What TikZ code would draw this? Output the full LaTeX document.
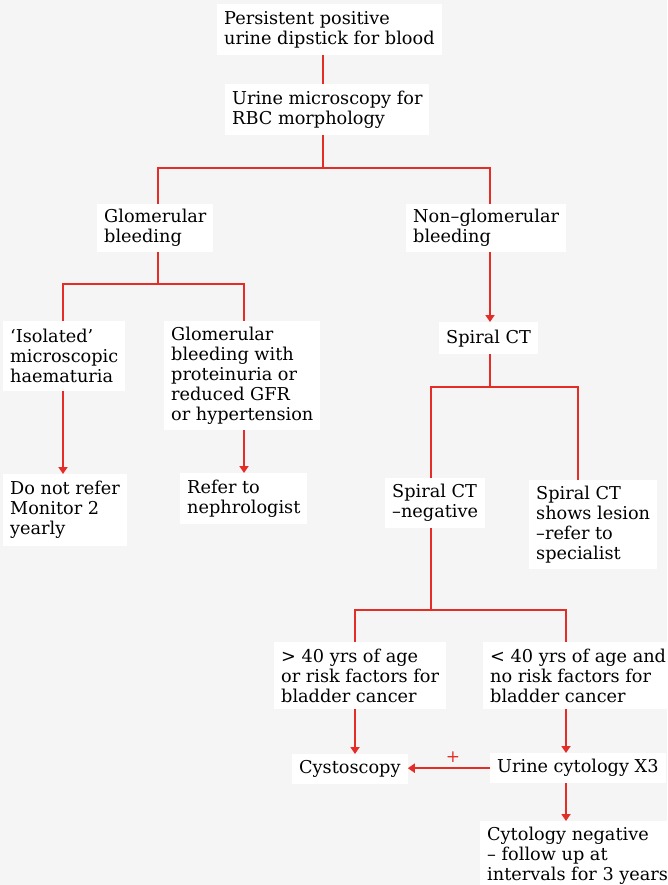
\documentclass[tikz,border=0pt]{standalone}
\usepackage{fontspec}
\setmainfont{DejaVu Serif}
\usepackage{tikz}
\usetikzlibrary{arrows.meta, positioning}

\definecolor{flowred}{RGB}{228,45,38}
\definecolor{bggrey}{RGB}{245,245,245}

\tikzset{
  box/.style={fill=white, inner xsep=7pt, inner ysep=3pt, align=left,
    anchor=north west, font=\fontsize{17.7}{20}\selectfont},
  link/.style={draw=flowred, line width=1.9pt},
}

\begin{document}
\begin{tikzpicture}[x=1pt, y=-1pt, >={Triangle[width=9pt,length=7pt]}]
  \fill[bggrey] (0,0) rectangle (667,885);
  \useasboundingbox (0,0) rectangle (667,885);
  \clip (0,0) rectangle (667,885);

  \node[box, minimum height=51pt]  (top)       at (217,4)   {Persistent positive\\urine dipstick for blood};
  \node[box, minimum height=51pt]  (micro)     at (225,84)  {Urine microscopy for\\RBC morphology};
  \node[box, minimum height=48pt]  (glom)      at (97,204)  {Glomerular\\bleeding};
  \node[box, minimum height=48pt]  (nonglom)   at (406,204) {Non–glomerular\\bleeding};
  \node[box, minimum height=70pt]  (isolated)  at (3,321)   {‘Isolated’\\microscopic\\haematuria};
  \node[box, minimum height=109pt] (glombleed) at (164,321) {Glomerular\\bleeding with\\proteinuria or\\reduced GFR\\or hypertension};
  \node[box, minimum height=32pt]  (spiral)    at (439,322) {Spiral CT};
  \node[box, minimum height=72pt]  (donot)     at (3,474)   {Do not refer\\Monitor 2\\yearly};
  \node[box, minimum height=51pt]  (refer)     at (180,473) {Refer to\\nephrologist};
  \node[box, minimum height=50pt]  (neg)       at (385,478) {Spiral CT\\–negative};
  \node[box, minimum height=89pt]  (lesion)    at (529,480) {Spiral CT\\shows lesion\\–refer to\\specialist};
  \node[box, minimum height=67pt]  (over40)    at (274,642) {> 40 yrs of age\\or risk factors for\\bladder cancer};
  \node[box, minimum height=67pt]  (under40)   at (483,642) {< 40 yrs of age and\\no risk factors for\\bladder cancer};
  \node[box, minimum height=30pt]  (cysto)     at (292,754) {Cystoscopy};
  \node[box, minimum height=30pt]  (cytol)     at (490,753) {Urine cytology X3};
  \node[box, minimum height=70pt]  (cytneg)    at (480,821) {Cytology negative\\– follow up at\\intervals for 3 years};

  % columns and junctions of the tree
  \coordinate (x63)  at (63,0);
  \coordinate (x244) at (244,0);
  \coordinate (x355) at (355,0);
  \coordinate (x431) at (431,0);
  \coordinate (x490) at (490,0);
  \coordinate (x566) at (566,0);
  \coordinate (x578) at (578,0);
  \coordinate (j1) at (323,168);
  \coordinate (j2) at (158,284);
  \coordinate (j3) at (490,387);
  \coordinate (j4) at (431,610);

  \draw[link] (top.south -| j1) -- (micro.north -| j1);
  \draw[link] (micro.south -| j1) -- (j1);
  \draw[link] (glom.north -| j2) |- (j1) -| (nonglom.north -| x490);

  % left branch
  \draw[link] (glom.south -| j2) -- (j2);
  \draw[link] (isolated.north -| x63) |- (j2) -| (glombleed.north -| x244);
  \draw[link, ->] (isolated.south -| x63) -- (donot.north -| x63);
  \draw[link, ->] (glombleed.south -| x244) -- (refer.north -| x244);

  % right branch
  \draw[link, ->] (nonglom.south -| x490) -- (spiral.north -| x490);
  \draw[link] (spiral.south -| j3) -- (j3);
  \draw[link] (neg.north -| x431) |- (j3) -| (lesion.north -| x578);
  \draw[link] (neg.south -| j4) -- (j4);
  \draw[link] (over40.north -| x355) |- (j4) -| (under40.north -| x566);
  \draw[link, ->] (over40.south -| x355) -- (cysto.north -| x355);
  \draw[link, ->] (under40.south -| x566) -- (cytol.north -| x566);
  \draw[link, ->] (cytol.south -| x566) -- (cytneg.north -| x566);
  \draw[link, ->] (cytol.west) -- node[above=1pt, pos=0.45, text=flowred, font=\fontsize{17}{20}\selectfont] (plus) {+} (cytol.west -| cysto.east);
\end{tikzpicture}
\end{document}
